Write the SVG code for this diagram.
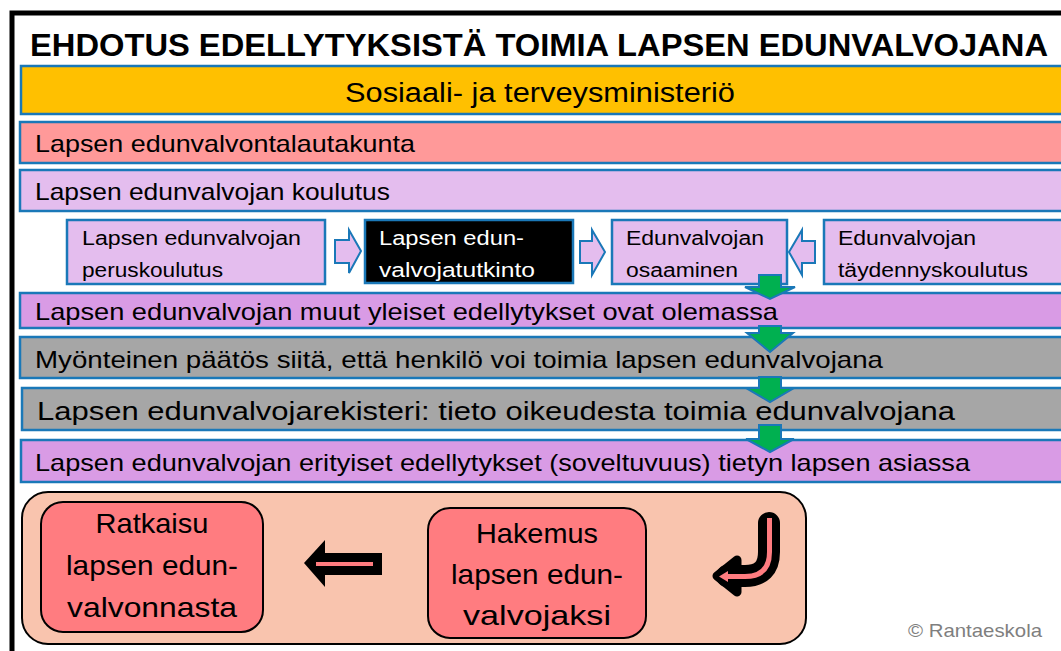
<svg xmlns="http://www.w3.org/2000/svg" width="1061" height="651" viewBox="0 0 1061 651">
<style>
.t{font-family:"Liberation Sans",Arial,sans-serif;fill:#000}
.bar{stroke:#1A78B8;stroke-width:2.5}
.box{fill:#E4BDEE;stroke:#1A78B8;stroke-width:2.5}
.harr{fill:#E4BDEE;stroke:#1A78B8;stroke-width:2}
.garr{fill:#00B050;stroke:#1A78B8;stroke-width:2}
.rbox{fill:#FF7C80;stroke:#000;stroke-width:2}
</style>
<rect x="0" y="0" width="1061" height="651" fill="#fff"/>
<path d="M12,651 V13 H1061" fill="none" stroke="#000" stroke-width="5"/>
<text class="t" x="30" y="56" font-size="32" font-weight="bold" textLength="1018" lengthAdjust="spacingAndGlyphs">EHDOTUS EDELLYTYKSISTÄ TOIMIA LAPSEN EDUNVALVOJANA</text>

<g id="ministerio">
<rect class="bar" x="21" y="66" width="1060" height="48" fill="#FFC000"/>
<text class="t" x="345" y="102" font-size="27" textLength="390" lengthAdjust="spacingAndGlyphs">Sosiaali- ja terveysministeriö</text>
</g>
<g id="lautakunta">
<rect class="bar" x="20" y="122" width="1060" height="41" fill="#FF9999"/>
<text class="t" x="35" y="152" font-size="24" textLength="380" lengthAdjust="spacingAndGlyphs">Lapsen edunvalvontalautakunta</text>
</g>
<g id="koulutus">
<rect class="bar" x="20" y="170" width="1060" height="41" fill="#E4BDEE"/>
<text class="t" x="35" y="200" font-size="24" textLength="355" lengthAdjust="spacingAndGlyphs">Lapsen edunvalvojan koulutus</text>
</g>

<g id="peruskoulutus">
<rect class="box" x="67" y="220" width="258" height="64"/>
<text class="t" x="82" y="245" font-size="20" textLength="219" lengthAdjust="spacingAndGlyphs">Lapsen edunvalvojan</text>
<text class="t" x="82" y="277" font-size="20" textLength="141" lengthAdjust="spacingAndGlyphs">peruskoulutus</text>
</g>
<g id="tutkinto">
<rect x="365" y="220" width="208" height="63" fill="#000" stroke="#1A78B8" stroke-width="2.5"/>
<text class="t" x="379" y="245" font-size="20" style="fill:#fff" textLength="145" lengthAdjust="spacingAndGlyphs">Lapsen edun-</text>
<text class="t" x="379" y="277" font-size="20" style="fill:#fff" textLength="156" lengthAdjust="spacingAndGlyphs">valvojatutkinto</text>
</g>
<g id="osaaminen">
<rect class="box" x="612" y="220" width="175" height="64"/>
<text class="t" x="626" y="245" font-size="20" textLength="138" lengthAdjust="spacingAndGlyphs">Edunvalvojan</text>
<text class="t" x="626" y="277" font-size="20" textLength="112" lengthAdjust="spacingAndGlyphs">osaaminen</text>
</g>
<g id="taydennys">
<rect class="box" x="824" y="220" width="260" height="64"/>
<text class="t" x="838" y="245" font-size="20" textLength="138" lengthAdjust="spacingAndGlyphs">Edunvalvojan</text>
<text class="t" x="838" y="277" font-size="20" textLength="190" lengthAdjust="spacingAndGlyphs">täydennyskoulutus</text>
</g>

<g id="yleiset">
<rect class="bar" x="20" y="293" width="1060" height="35" fill="#D99BE5"/>
<text class="t" x="35" y="320" font-size="24" textLength="743" lengthAdjust="spacingAndGlyphs">Lapsen edunvalvojan muut yleiset edellytykset ovat olemassa</text>
</g>
<g id="paatos">
<rect class="bar" x="20" y="337" width="1060" height="41" fill="#A6A6A6"/>
<text class="t" x="35" y="368" font-size="24" textLength="848" lengthAdjust="spacingAndGlyphs">Myönteinen päätös siitä, että henkilö voi toimia lapsen edunvalvojana</text>
</g>
<g id="rekisteri">
<rect class="bar" x="22" y="388" width="1060" height="42" fill="#A6A6A6"/>
<text class="t" x="37" y="420" font-size="26" textLength="918" lengthAdjust="spacingAndGlyphs">Lapsen edunvalvojarekisteri: tieto oikeudesta toimia edunvalvojana</text>
</g>
<g id="erityiset">
<rect class="bar" x="21" y="440" width="1060" height="42" fill="#D99BE5"/>
<text class="t" x="35" y="471" font-size="24" textLength="935" lengthAdjust="spacingAndGlyphs">Lapsen edunvalvojan erityiset edellytykset (soveltuvuus) tietyn lapsen asiassa</text>
</g>

<g id="connectors">
<polygon class="harr" points="335,240 349,240 349,230 361,251 349,273 349,263 335,263"/>
<polygon class="harr" points="580,241 592,241 592,230 605,252 592,275 592,263 580,263"/>
<polygon class="harr" points="815,241 802,241 802,230 789,252 802,275 802,263 815,263"/>
<polygon class="garr" points="759,275 781,275 781,287 795,287 770,299 745,287 759,287"/>
<polygon class="garr" points="759,326 781,326 781,333 793,333 770,352 747,333 759,333"/>
<polygon class="garr" points="759,377 781,377 781,388 794,388 770,402 746,388 759,388"/>
<polygon class="garr" points="759,425 781,425 781,439 794,439 770,452 746,439 759,439"/>
</g>

<g id="prosessi">
<rect x="22" y="492" width="784" height="152" rx="26" fill="#F9C4AE" stroke="#000" stroke-width="2"/>
</g>
<g id="ratkaisu">
<rect class="rbox" x="41" y="502" width="222" height="130" rx="22"/>
<text class="t" x="152" y="533" font-size="28" text-anchor="middle" textLength="113" lengthAdjust="spacingAndGlyphs">Ratkaisu</text>
<text class="t" x="152" y="575" font-size="28" text-anchor="middle" textLength="172" lengthAdjust="spacingAndGlyphs">lapsen edun-</text>
<text class="t" x="152" y="617" font-size="28" text-anchor="middle" textLength="170" lengthAdjust="spacingAndGlyphs">valvonnasta</text>
</g>
<g id="hakemus">
<rect class="rbox" x="428" y="508" width="218" height="130" rx="22"/>
<text class="t" x="537" y="543" font-size="28" text-anchor="middle" textLength="122" lengthAdjust="spacingAndGlyphs">Hakemus</text>
<text class="t" x="537" y="584" font-size="28" text-anchor="middle" textLength="172" lengthAdjust="spacingAndGlyphs">lapsen edun-</text>
<text class="t" x="537" y="625" font-size="28" text-anchor="middle" textLength="148" lengthAdjust="spacingAndGlyphs">valvojaksi</text>
</g>
<g id="process-arrows">
<polygon points="304,563 325,540 325,553 382,553 382,575 325,575 325,587" fill="#000"/>
<line x1="316" y1="564" x2="373" y2="564" stroke="#FF7C80" stroke-width="4"/>
<path d="M769,523 V552 Q769,576 745,576 H727" fill="none" stroke="#000" stroke-width="22" stroke-linecap="round" stroke-linejoin="round"/>
<polygon points="737,560 717,576 737,592" fill="#000" stroke="#000" stroke-width="9" stroke-linejoin="round"/>
<path d="M769.5,518 V552 Q769.5,576.5 745,576.5 H726" fill="none" stroke="#FF7C80" stroke-width="5"/>
<polygon points="728,571 719,576.5 728,582" fill="#FF7C80"/>
</g>
<text x="1042" y="637" font-family="Liberation Sans,Arial,sans-serif" font-size="19" fill="#7F7F7F" text-anchor="end" textLength="134" lengthAdjust="spacingAndGlyphs">© Rantaeskola</text>
</svg>
